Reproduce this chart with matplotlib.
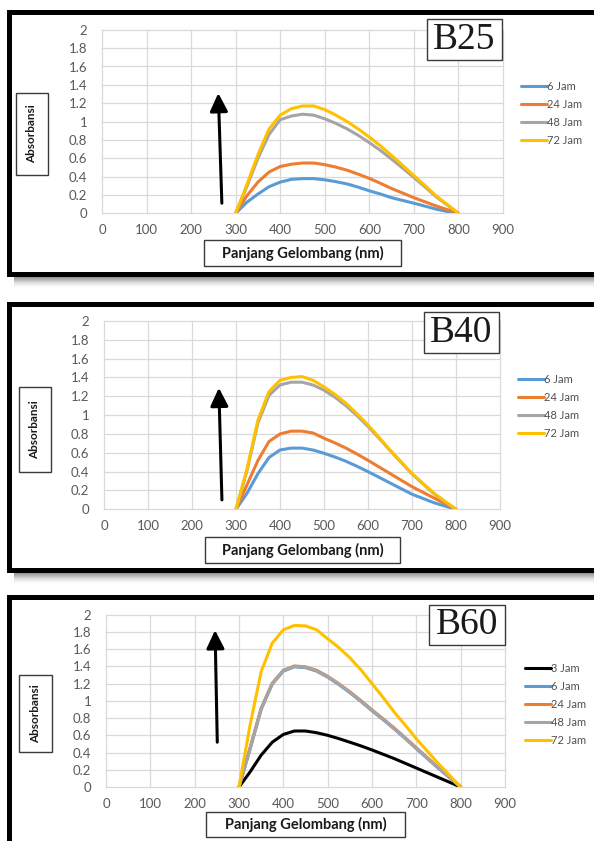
import matplotlib
matplotlib.use("Agg")
import matplotlib.pyplot as plt
from matplotlib.patches import Rectangle

# ---------------- data ----------------
wavelength = [300, 325, 350, 375, 400, 425, 450, 475, 500, 525, 550, 575, 600, 625,
              650, 675, 700, 725, 750, 775, 800]
x_ticks = [0, 100, 200, 300, 400, 500, 600, 700, 800, 900]
y_ticks = [0, 0.2, 0.4, 0.6, 0.8, 1.0, 1.2, 1.4, 1.6, 1.8, 2.0]
y_tick_labels = ["0", "0.2", "0.4", "0.6", "0.8", "1", "1.2", "1.4", "1.6", "1.8", "2"]

b25_labels = ["6 Jam", "24 Jam", "48 Jam", "72 Jam"]
b25_6 = [0, 0.12, 0.21, 0.29, 0.34, 0.37, 0.378, 0.378, 0.365, 0.345, 0.32, 0.285, 0.245,
         0.21, 0.17, 0.14, 0.11, 0.078, 0.045, 0.02, 0]
b25_24 = [0, 0.19, 0.34, 0.45, 0.51, 0.535, 0.548, 0.548, 0.53, 0.503, 0.47, 0.427, 0.38,
          0.327, 0.27, 0.22, 0.17, 0.125, 0.08, 0.04, 0]
b25_48 = [0, 0.29, 0.60, 0.86, 1.02, 1.06, 1.08, 1.07, 1.03, 0.98, 0.92, 0.85, 0.77,
          0.685, 0.59, 0.492, 0.39, 0.287, 0.18, 0.09, 0]
b25_72 = [0, 0.31, 0.64, 0.92, 1.07, 1.14, 1.17, 1.17, 1.13, 1.07, 1.00, 0.92, 0.83,
          0.735, 0.63, 0.522, 0.41, 0.302, 0.19, 0.095, 0]

b40_labels = ["6 Jam", "24 Jam", "48 Jam", "72 Jam"]
b40_6 = [0, 0.17, 0.38, 0.55, 0.63, 0.65, 0.65, 0.63, 0.595, 0.555, 0.51, 0.457, 0.40,
         0.34, 0.28, 0.22, 0.16, 0.115, 0.07, 0.034, 0]
b40_24 = [0, 0.26, 0.52, 0.72, 0.80, 0.83, 0.83, 0.81, 0.755, 0.705, 0.65, 0.587, 0.52,
          0.45, 0.38, 0.31, 0.24, 0.18, 0.12, 0.06, 0]
b40_48 = [0, 0.41, 0.92, 1.21, 1.32, 1.35, 1.35, 1.32, 1.265, 1.19, 1.10, 0.995, 0.88,
          0.755, 0.625, 0.50, 0.375, 0.27, 0.165, 0.08, 0]
b40_72 = [0, 0.43, 0.95, 1.25, 1.37, 1.40, 1.41, 1.37, 1.30, 1.22, 1.125, 1.015, 0.895,
          0.765, 0.63, 0.505, 0.38, 0.275, 0.17, 0.085, 0]

b60_labels = ["3 Jam", "6 Jam", "24 Jam", "48 Jam", "72 Jam"]
b60_3 = [0, 0.175, 0.37, 0.52, 0.61, 0.65, 0.65, 0.63, 0.60, 0.562, 0.52, 0.477, 0.43,
         0.38, 0.33, 0.275, 0.22, 0.165, 0.11, 0.055, 0]
b60_6 = [0, 0.44, 0.90, 1.195, 1.345, 1.395, 1.385, 1.345, 1.275, 1.19, 1.095, 0.993, 0.885,
         0.782, 0.675, 0.562, 0.445, 0.33, 0.215, 0.108, 0]
b60_24 = [0, 0.455, 0.915, 1.205, 1.355, 1.405, 1.395, 1.355, 1.285, 1.20, 1.105, 1.003, 0.895,
          0.792, 0.685, 0.572, 0.455, 0.34, 0.225, 0.113, 0]
b60_48 = [0, 0.45, 0.91, 1.20, 1.35, 1.40, 1.39, 1.35, 1.28, 1.195, 1.10, 0.998, 0.89,
          0.787, 0.68, 0.567, 0.45, 0.335, 0.22, 0.11, 0]
b60_72 = [0, 0.72, 1.34, 1.67, 1.825, 1.875, 1.87, 1.825, 1.72, 1.62, 1.50, 1.36, 1.20,
          1.04, 0.87, 0.718, 0.56, 0.415, 0.27, 0.135, 0]

BLUE, ORANGE, GRAY, YELLOW, BLACK = "#5B9BD5", "#ED7D31", "#A5A5A5", "#FFC000", "#000000"

# ---------------- figure ----------------
W, H = 594, 841
fig = plt.figure(figsize=(W / 100, H / 100), dpi=100)
fig.patch.set_facecolor("white")


def fx(x):
    return x / W


def fy(y):
    return 1 - y / H


def rect_px(x0, y0, x1, y1, **kw):
    r = Rectangle((fx(x0), fy(y1)), (x1 - x0) / W, (y1 - y0) / H,
                  transform=fig.transFigure, **kw)
    fig.add_artist(r)
    return r


def frame(top, bottom):
    # soft shadow under the frame
    if bottom < H:
        for k, a in zip(range(1, 12), [0.32, 0.28, 0.24, 0.2, 0.17, 0.14, 0.11, 0.08, 0.06, 0.04, 0.02]):
            rect_px(14, bottom, 600, bottom + k, facecolor="#555555", edgecolor="none",
                    alpha=a * 0.5, zorder=-20)
    rect_px(7, top, 604, bottom, facecolor="black", edgecolor="none", zorder=-15)
    rect_px(12, top + 5, 604, bottom - 5, facecolor="white", edgecolor="none", zorder=-14)


def label_box(x0, y0, x1, y1, text, rotation=0, size=10, family="Lato", weight="bold"):
    rect_px(x0, y0, x1, y1, facecolor="white", edgecolor="#3A3A3A", linewidth=1.0, zorder=5)
    fig.text(fx((x0 + x1) / 2), fy((y0 + y1) / 2), text, rotation=rotation, ha="center",
             va="center", fontsize=size, family=family, weight=weight, color="#1A1A1A",
             zorder=6)


def make_axes(left, right, top, bottom):
    ax = fig.add_axes([fx(left), fy(bottom), (right - left) / W, (bottom - top) / H])
    ax.set_xlim(0, 900)
    ax.set_ylim(0, 2)
    ax.set_xticks(x_ticks)
    ax.set_yticks(y_ticks)
    ax.set_yticklabels(y_tick_labels)
    ax.grid(True, color="#D9D9D9", linewidth=0.9)
    for gl in ax.get_xgridlines() + ax.get_ygridlines():
        gl.set_clip_on(False)
    ax.set_axisbelow(True)
    for s in ax.spines.values():
        s.set_visible(False)
    ax.patch.set_visible(False)
    ax.tick_params(axis="both", length=0, labelsize=9.5, labelcolor="#595959")
    ax.tick_params(axis="y", pad=10.5)
    ax.tick_params(axis="x", pad=8)
    for lab in ax.get_xticklabels() + ax.get_yticklabels():
        lab.set_family("Lato")
    return ax


def add_legend(ax, handles, labels, x, y):
    ax.legend(handles, labels, loc="upper left", bbox_to_anchor=(fx(x), fy(y)),
              bbox_transform=fig.transFigure, frameon=False, borderpad=0, borderaxespad=0,
              handlelength=2.3, handletextpad=0.05, labelspacing=0.62,
              prop={"family": "Lato", "size": 8}, labelcolor="#505050")


def arrow(ax, x0, y0, x1, y1):
    ax.annotate("", xy=(x1, y1), xytext=(x0, y0),
                arrowprops=dict(arrowstyle="-|>,head_length=0.55,head_width=0.27",
                                color="black", lw=2.2, mutation_scale=20,
                                shrinkA=0, shrinkB=0))


LW = 2.2

# ---------- panel B25 ----------
frame(10, 277)
ax1 = make_axes(102, 503, 29.8, 213.3)
hs = []
for ys, c in zip([b25_6, b25_24, b25_48, b25_72], [BLUE, ORANGE, GRAY, YELLOW]):
    hs += ax1.plot(wavelength, ys, color=c, lw=LW, solid_capstyle="round",
                   solid_joinstyle="round")
arrow(ax1, 269, 0.11, 261, 1.31)
add_legend(ax1, hs, b25_labels, 521, 81)
label_box(427, 19, 502, 60, "B25", size=27, family="Liberation Serif", weight="normal")
label_box(16, 93, 48, 175, "Absorbansi", rotation=90, size=8.5)
label_box(204, 240, 401, 266, "Panjang Gelombang (nm)", size=10.5)

# ---------- panel B40 ----------
frame(302, 573)
ax2 = make_axes(104, 500, 321, 509.3)
hs = []
for ys, c in zip([b40_6, b40_24, b40_48, b40_72], [BLUE, ORANGE, GRAY, YELLOW]):
    hs += ax2.plot(wavelength, ys, color=c, lw=LW, solid_capstyle="round",
                   solid_joinstyle="round")
arrow(ax2, 268, 0.10, 261, 1.29)
add_legend(ax2, hs, b40_labels, 518, 374)
label_box(424, 312, 499, 353, "B40", size=27, family="Liberation Serif", weight="normal")
label_box(19, 387, 51, 472, "Absorbansi", rotation=90, size=8.5)
label_box(205, 537, 400, 563, "Panjang Gelombang (nm)", size=10.5)

# ---------- panel B60 ----------
frame(595, 900)
ax3 = make_axes(106, 505, 614.7, 787)
hs = []
for ys, c in zip([b60_3, b60_6, b60_24, b60_48, b60_72], [BLACK, BLUE, ORANGE, GRAY, YELLOW]):
    hs += ax3.plot(wavelength, ys, color=c, lw=LW, solid_capstyle="round",
                   solid_joinstyle="round")
arrow(ax3, 251, 0.52, 246, 1.82)
add_legend(ax3, hs, b60_labels, 525, 663)
label_box(429, 605, 505, 645, "B60", size=27, family="Liberation Serif", weight="normal")
label_box(19, 675, 52, 752, "Absorbansi", rotation=90, size=8.5)
label_box(206, 812, 405, 837, "Panjang Gelombang (nm)", size=10.5)

fig.savefig("out.png", dpi=100, facecolor="white")
